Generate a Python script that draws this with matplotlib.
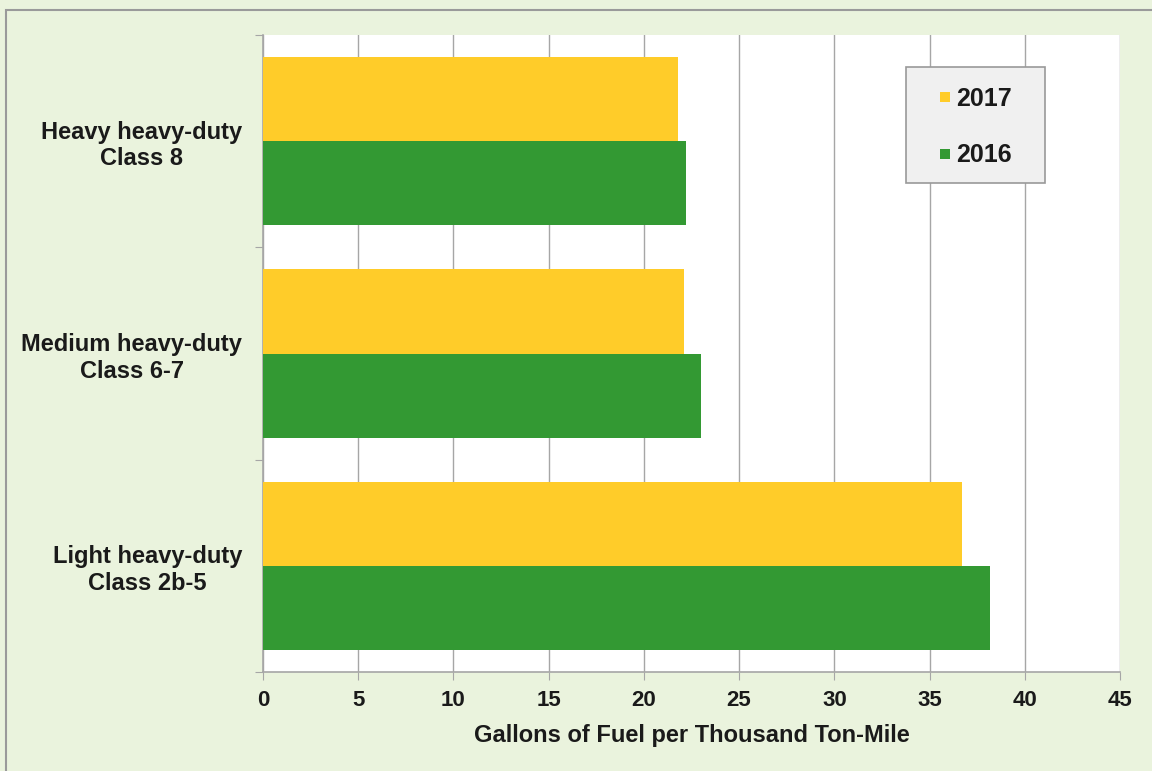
import numpy as np
import matplotlib.pyplot as plt
from matplotlib.patches import Rectangle
from matplotlib.lines import Line2D

# Werte
categories = ["Light heavy-duty\nClass 2b-5", "Medium heavy-duty\nClass 6-7", "Heavy heavy-duty\nClass 8"]
vals_2017 = [36.7, 22.1, 21.8]
vals_2016 = [38.2, 23.0, 22.2]
xticks = [0, 5, 10, 15, 20, 25, 30, 35, 40, 45]

bg = "#EAF3DD"
yellow = "#FFCC29"
green = "#339933"
grid_c = "#A6A6A6"
txt_c = "#1a1a1a"

plt.rcParams['font.family'] = ['Liberation Sans', 'DejaVu Sans']
plt.rcParams['font.weight'] = 'bold'

fig = plt.figure(figsize=(11.52, 7.71), dpi=100, facecolor=bg)
ax = fig.add_axes([263 / 1152, 1 - 672 / 771, (1120 - 263) / 1152, (672 - 35) / 771])
ax.set_facecolor("white")

# Rahmen oben/links wie im Original
fig.patches.append(Rectangle((6 / 1152, -0.1), 1.2, 1 - 10 / 771 + 0.1, transform=fig.transFigure,
                             fill=False, edgecolor="#9A9A9A", linewidth=1.5))

y = np.arange(len(categories))
h = 0.396
ax.barh(y - h / 2, vals_2016, height=h, color=green, label="2016", zorder=3)
ax.barh(y + h / 2, vals_2017, height=h, color=yellow, label="2017", zorder=3)

ax.set_xlim(0, 45)
ax.set_ylim(-0.5, 2.5)
ax.set_xticks(xticks)
ax.set_xticklabels([str(t) for t in xticks], fontsize=16, fontweight='bold', color=txt_c)
ax.xaxis.grid(True, color=grid_c, linewidth=1.0, zorder=0)

# Kategorie-Trennstriche als Ticks, Beschriftungen mittig
ax.set_yticks([-0.5, 0.5, 1.5, 2.5])
ax.set_yticklabels([])
ax.set_yticks(y, minor=True)
ax.set_yticklabels(categories, minor=True, fontsize=17, fontweight='bold', ha='right',
                   multialignment='center', color=txt_c, linespacing=1.2)
ax.tick_params(axis='y', which='minor', length=0, pad=15)
ax.tick_params(axis='y', which='major', length=6, color=grid_c, direction='out')
ax.tick_params(axis='x', length=6, color=grid_c, direction='out', pad=7)

for s in ['top', 'right']:
    ax.spines[s].set_visible(False)
for s in ['left', 'bottom']:
    ax.spines[s].set_color(grid_c)
    ax.spines[s].set_linewidth(1.2)

ax.set_xlabel("Gallons of Fuel per Thousand Ton-Mile", fontsize=17, fontweight='bold',
              color=txt_c, labelpad=9)

# Legendenkasten
bx0, bx1, by0, by1 = 906, 1045, 67, 183
ax_w, ax_h = 1120 - 263, 672 - 35
ax.add_patch(Rectangle(((bx0 - 263) / ax_w, 1 - (by1 - 35) / ax_h), (bx1 - bx0) / ax_w, (by1 - by0) / ax_h,
                       transform=ax.transAxes, facecolor="#F0F0F0", edgecolor="#999999",
                       linewidth=1.2, zorder=5))
handles = [Line2D([], [], marker='s', linestyle='none', markersize=6.5, color=c, markeredgewidth=0)
           for c in [yellow, green]]
leg = ax.legend(handles, ["2017", "2016"], loc='center',
                bbox_to_anchor=(((bx0 + bx1) / 2 - 263) / ax_w, 1 - ((by0 + by1) / 2 + 2 - 35) / ax_h),
                frameon=False, handlelength=0.45, handletextpad=0.2, labelspacing=1.3,
                borderpad=0, borderaxespad=0, prop={'weight': 'bold', 'size': 18})
leg.set_zorder(6)
for t in leg.get_texts():
    t.set_color(txt_c)

plt.savefig("out.png", dpi=100, facecolor=bg)
